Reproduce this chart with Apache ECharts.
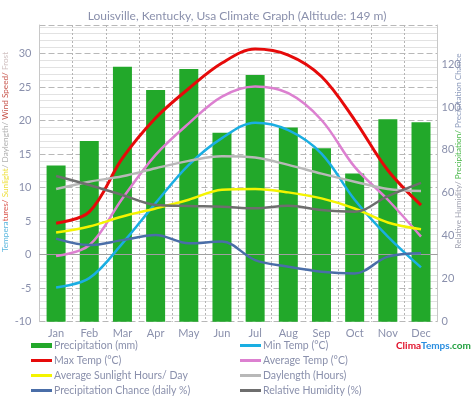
<!DOCTYPE html>
<html>
<head>
<meta charset="utf-8">
<script src="https://cdn.jsdelivr.net/npm/echarts@6/dist/echarts.min.js"></script>
<style>html,body{margin:0;padding:0;background:#fff}#c{width:474px;height:400px}</style>
</head>
<body>
<div id="c"></div>
<script>
const months = ['Jan','Feb','Mar','Apr','May','Jun','Jul','Aug','Sep','Oct','Nov','Dec'];
const precipitation = [72.8, 84.2, 118.8, 107.9, 117.7, 88.0, 114.9, 90.4, 80.8, 69.0, 94.3, 92.9];
const maxTemp = [4.7, 6.4, 14.4, 20.4, 24.8, 28.6, 30.7, 29.8, 26.6, 20.1, 12.6, 7.4];
const minTemp = [-4.9, -3.5, 1.7, 7.7, 13.4, 17.4, 19.7, 18.6, 15.1, 8.2, 2.7, -1.9];
const avgTemp = [-0.2, 1.4, 8.4, 14.9, 19.6, 23.6, 25.1, 24.1, 20.1, 13.1, 8.2, 2.7];
const sunlight = [3.3, 4.2, 5.7, 6.9, 8.2, 9.7, 9.8, 9.3, 8.4, 6.9, 4.8, 3.8];
const daylength = [9.8, 10.9, 11.7, 12.9, 14.0, 14.7, 14.5, 13.4, 12.1, 10.9, 9.8, 9.5];
const precipChance = [38.7, 35.7, 38.0, 40.4, 36.5, 37.3, 28.7, 25.6, 23.3, 22.5, 30.3, 31.9];
const humidity = [67.9, 63.7, 59.0, 54.4, 53.9, 53.6, 52.8, 54.0, 52.0, 51.2, 58.5, 64.7];
const leftTicks = [-10, -5, 0, 5, 10, 15, 20, 25, 30];
const rightTicks = [0, 20, 40, 60, 80, 100, 120];

const FONT = 'Lato, "Open Sans", sans-serif';
const TXT = '#8a90ac';

const seriesDefs = [
  {name:'Precipitation (mm)', type:'bar', data:precipitation, color:'#22a82a', y:1},
  {name:'Min Temp (°C)', type:'line', data:minTemp, color:'#1aaee2', y:0},
  {name:'Max Temp (°C)', type:'line', data:maxTemp, color:'#e60a0a', y:0, w:3},
  {name:'Average Temp (°C)', type:'line', data:avgTemp, color:'#dc80d0', y:0},
  {name:'Average Sunlight Hours/ Day', type:'line', data:sunlight, color:'#f4f400', y:0},
  {name:'Daylength (Hours)', type:'line', data:daylength, color:'#b8b8b8', y:0},
  {name:'Precipitation Chance (daily %)', type:'line', data:precipChance, color:'#4a6ea8', y:1},
  {name:'Relative Humidity (%)', type:'line', data:humidity, color:'#6e6e6e', y:1}
];

const series = seriesDefs.map(d => {
  if (d.type === 'bar') {
    return {name:d.name, type:'bar', yAxisIndex:1, data:d.data, barWidth:19,
      itemStyle:{color:d.color}, z:1};
  }
  return {name:d.name, type:'line', yAxisIndex:d.y, data:d.data, smooth:0.35,
    showSymbol:false, symbol:'none', lineStyle:{color:d.color, width:d.w||2.5},
    itemStyle:{color:d.color}, z:3};
});
series[1].markLine = {silent:true, symbol:'none', label:{show:false},
  lineStyle:{color:'#a0a0a0', width:1, type:'solid'}, data:[{yAxis:0}], z:2};

const legendPos = [
  [31, 340], [240, 340],
  [31, 355], [240, 355],
  [31, 370], [240, 370],
  [31, 385], [240, 385]
];
const legends = seriesDefs.map((d, i) => ({
  left: legendPos[i][0], top: legendPos[i][1], padding: 0,
  data: [d.name], icon: 'rect', itemWidth: 21, itemHeight: d.type === 'bar' ? 5 : 3,
  itemGap: 0, selectedMode: false,
  textStyle: {color: TXT, fontSize: 10.5, fontFamily: FONT, padding:[0,0,0,-3]}
}));

const NS = 8.2;
const option = {
  backgroundColor: '#fff',
  animation: false,
  title: {text: 'Louisville, Kentucky, Usa Climate Graph (Altitude: 149 m)', left: 'center', top: 5,
    textStyle: {color: TXT, fontSize: 12, fontWeight: 'normal', fontFamily: FONT}},
  grid: {left: 39.5, right: 36.4, top: 25, bottom: 78.3, containLabel: false},
  legend: legends,
  xAxis: {type: 'category', data: months, boundaryGap: true,
    axisLine: {lineStyle: {color: '#c8c8c8'}}, axisTick: {show: false},
    axisLabel: {color: TXT, fontSize: 11, fontFamily: FONT, margin: 6},
    splitLine: {show: true, lineStyle: {color: '#b4b4b4', type: [2, 2], width: 1}}},
  yAxis: [
    {type: 'value', min: -10, max: 34.28, interval: 5,
      axisLine: {show: true, lineStyle: {color: '#c8c8c8'}}, axisTick: {show: false},
      axisLabel: {color: TXT, fontSize: 11, fontFamily: FONT, margin: 8, showMaxLabel: false},
      splitLine: {show: true, lineStyle: {color: '#b8b8b8', type: [6, 3]}},
      minorTick: {show: false, splitNumber: 5},
      minorSplitLine: {show: true, lineStyle: {color: '#e2e2e2', width: 1}}},
    {type: 'value', min: 0, max: 138.2, interval: 20, position: 'right',
      axisLine: {show: true, lineStyle: {color: '#c8c8c8'}}, axisTick: {show: false},
      axisLabel: {color: TXT, fontSize: 11, fontFamily: FONT, margin: 4, showMaxLabel: false},
      splitLine: {show: false}}
  ],
  graphic: [
    {type: 'text', x: 5, y: 152, rotation: Math.PI / 2,
      style: {text: '{b|Tempera}{r|tures/ }{y|Sunlight}{g|/ Daylength/ }{w|Wind Speed/ }{f|Frost}',
        fontSize: NS, fontFamily: FONT, align: 'center', verticalAlign: 'middle',
        rich: {b:{fill:'#5ab6de', fontSize:NS, fontFamily:FONT}, r:{fill:'#d9534a', fontSize:NS, fontFamily:FONT},
          y:{fill:'#eee040', fontSize:NS, fontFamily:FONT}, g:{fill:'#b0b0b0', fontSize:NS, fontFamily:FONT},
          w:{fill:'#c8584f', fontSize:NS, fontFamily:FONT}, f:{fill:'#d0c0c0', fontSize:NS, fontFamily:FONT}}}},
    {type: 'text', x: 458, y: 151, rotation: Math.PI / 2,
      style: {text: '{g|Relative Humidity/ }{p|Precipitation/ }{c|Precipitation Chance}',
        fontSize: NS, fontFamily: FONT, align: 'center', verticalAlign: 'middle',
        rich: {g:{fill:'#a0a2b0', fontSize:NS, fontFamily:FONT}, p:{fill:'#4cb84c', fontSize:NS, fontFamily:FONT},
          c:{fill:'#8e9cbc', fontSize:NS, fontFamily:FONT}}}},
    {type: 'text', x: 396, y: 341,
      style: {text: '{r|Clima}{b|Temps}{g|.com}', fontSize: 10, fontWeight: 'bold', fontFamily: FONT,
        rich: {r:{fill:'#e0102a', fontSize:10, fontWeight:'bold', fontFamily:FONT},
          b:{fill:'#2a8ee0', fontSize:10, fontWeight:'bold', fontFamily:FONT},
          g:{fill:'#22a040', fontSize:10, fontWeight:'bold', fontFamily:FONT}}}}
  ],
  series: series
};

const chart = echarts.init(document.getElementById('c'), null, {renderer: 'canvas'});
chart.setOption(option);
</script>
</body>
</html>
